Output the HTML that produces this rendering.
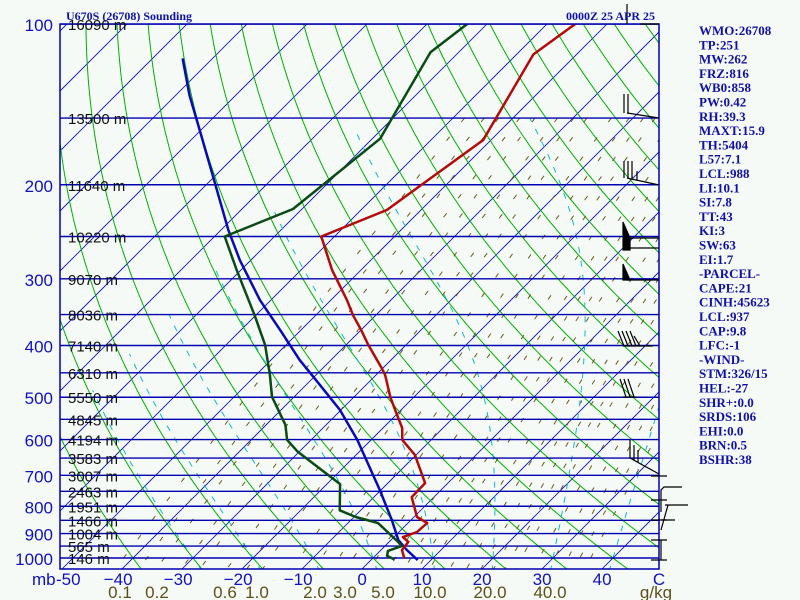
<!DOCTYPE html>
<html><head><meta charset="utf-8"><style>
html,body{margin:0;padding:0;background:#f5faf6;}
svg{display:block;}
.ttl{font-family:"Liberation Serif",serif;font-weight:bold;font-size:12px;fill:#1010a8;}
.stat{font-family:"Liberation Serif",serif;font-weight:bold;font-size:13px;fill:#1010a8;}
.ax{font-family:"Liberation Sans",sans-serif;font-size:17px;fill:#1010c0;}
.wl{font-family:"Liberation Sans",sans-serif;font-size:17px;fill:#5a5018;}
.hl{font-family:"Liberation Sans",sans-serif;font-size:15px;fill:#111;}
</style></head><body>
<svg id="chart" width="800" height="600" xmlns="http://www.w3.org/2000/svg">
<defs><clipPath id="plotclip"><rect x="60" y="24" width="599" height="545"/></clipPath></defs>
<rect x="0" y="0" width="800" height="600" fill="#f5faf6"/>
<g id="grid" clip-path="url(#plotclip)"></g>
<g id="series" clip-path="url(#plotclip)"></g>
<rect x="60" y="24" width="599" height="545" fill="none" stroke="#0000b0" stroke-width="1.5"/>
<g id="labels"></g>
<g id="barbs" stroke="#000" stroke-width="1.2" fill="none">
<path d="M627,24 V4 M659,24 H640"/>
<path d="M659,118 L627,113 M624,94 V113 M628,94 V113"/>
<path d="M659,185 L627,178 M624,161 V178 M628,161 V178 M632,161 V178 M637,171 V181"/>
<path d="M659,238 H627 M659,248 H630"/>
<path d="M623,222 L630,238 L630,250 L623,250 Z" fill="#000"/>
<path d="M659,280 H627"/>
<path d="M623,264 L630,280 L623,280 Z" fill="#000"/>
<path d="M653,346 H623 M618,331 L624,346 M622,331 L628,346 M626,331 L632,346 M630,331 L636,346 M634,336 L640,346"/>
<path d="M636,397 H623 M620,379 L626,397 M624,379 L630,397 M628,379 L634,397"/>
<path d="M659,474 L630,458 M630,440 V458 M634,445 V460 M638,450 V462"/>
<path d="M661,512 V490 L664,487 H682 M665,505 H688 M661,530 L668,505 M661,520 H675"/>
<path d="M651,476 H667 M651,500 H667 M651,520 H667 M651,540 H667 M651,560 H667 M661,540 V560"/>
</g>
<text class="ttl" x="66" y="20">U670S (26708) Sounding</text>
<text class="ttl" x="655" y="20" text-anchor="end">0000Z 25 APR 25</text>
<g id="stats"></g>
</svg>
<script>
// ---- data ----
const tempP=[100,114,165,223,250,289,329,351,374,399,441,454,501,540,571,601,641,724,769,838,860,894,914,933,966,1000];
const tempT=[-55.3,-57.2,-51.3,-55.7,-62.2,-54.8,-47.3,-43.8,-40,-36.3,-30.2,-28.5,-23.8,-19.8,-16.8,-14.8,-10.2,-3.8,-3.7,0.5,3.2,3.0,1.5,3.2,3.5,5.2];
const dewP=[100,113,164,222,250,289,351,399,454,499,563,601,632,727,814,838,860,933,950,970,991,1005];
const dewT=[-73.3,-74.7,-68.7,-71.5,-78.3,-70.7,-60.2,-53.5,-47.7,-43.7,-36.8,-34,-30.3,-17.8,-13.5,-9.7,-5,1.5,2.8,1.3,2.0,3.7];
const parcelP=[116,136,158,192,243,277,329,374,426,474,528,601,746,849,925,966,1009];
const parcelT=[-115,-107.7,-100.2,-90.5,-78.8,-71.8,-61.8,-53.5,-45.2,-37.7,-30.2,-22.3,-10.2,-3.2,1.2,4.3,7.8];
const levelP=[100,150,200,250,300,350,400,450,500,550,600,650,700,750,800,850,900,950,1000];
const heightLabels=["16090 m","13500 m","11640 m","10220 m","9070 m","8036 m","7140 m","6310 m","5550 m","4845 m","4194 m","3583 m","3007 m","2463 m","1951 m","1466 m","1004 m","565 m","146 m"];
const pressureTicks=[100,200,300,400,500,600,700,800,900,1000];
const tempTicks=[-40,-30,-20,-10,0,10,20,30,40];
const mixLabels=["0.1","0.2","0.6","1.0","2.0","3.0","5.0","10.0","20.0","40.0"];
const mixLabelX=[120,157,225,257,315,345,383,430,490,550];
const mixRatios=[0.1,0.15,0.2,0.3,0.4,0.6,0.8,1,1.5,2,2.5,3,4,5,6,7,8,10,12,14,16,18,20,24,28,32,36,40];
const isoT=[-160,-150,-140,-130,-120,-110,-100,-90,-80,-70,-60,-50,-40,-30,-20,-10,0,10,20,30,40];
const thetaC=[-40,-30,-20,-10,0,10,20,30,40,50,60,70,80,90,100,110,120,130,140,150,160,170,180,190,200];
const moistT0=[-30,-20,-10,0,10,20,30,40];
const statLines=["WMO:26708","TP:251","MW:262","FRZ:816","WB0:858","PW:0.42","RH:39.3","MAXT:15.9","TH:5404","L57:7.1","LCL:988","LI:10.1","SI:7.8","TT:43","KI:3","SW:63","EI:1.7","-PARCEL-","CAPE:21","CINH:45623","LCL:937","CAP:9.8","LFC:-1","-WIND-","STM:326/15","HEL:-27","SHR+:0.0","SRDS:106","EHI:0.0","BRN:0.5","BSHR:38"];
// ---- axes ----
const NS="http://www.w3.org/2000/svg";
function yP(p){return 24+534*Math.log10(p/100);}
function xTP(T,p){return 362+6*T+(569-yP(p));}
function el(tag,attrs,parent){const e=document.createElementNS(NS,tag);for(const k in attrs)e.setAttribute(k,attrs[k]);parent.appendChild(e);return e;}
function pathFrom(pts){return pts.map((q,i)=>(i?"L":"M")+q[0].toFixed(1)+","+q[1].toFixed(1)).join(" ");}
const grid=document.getElementById('grid'),series=document.getElementById('series'),labels=document.getElementById('labels'),stats=document.getElementById('stats');
const pList=[];for(let p=95;p<=1060;p+=5)pList.push(p);
// isotherms
isoT.forEach(T=>{const e=el('line',{x1:xTP(T,1060),y1:yP(1060),x2:xTP(T,95),y2:yP(95),stroke:'#0000c0','stroke-width':0.8},grid);

});
// dry adiabats
thetaC.forEach(th=>{const pts=pList.map(p=>[xTP((th+273.15)*Math.pow(p/1000,0.2857)-273.15,p),yP(p)]);
const e=el('path',{d:pathFrom(pts),stroke:'#00b000','stroke-width':1,fill:'none'},grid);

});
// mixing ratio lines
function tdFromW(w,p){const e=w*p/(622+w);const l=Math.log(e/6.112);return 243.5*l/(17.67-l);}
mixRatios.forEach(w=>{const pts=[];for(let p=150;p<=1060;p+=10)pts.push([xTP(tdFromW(w,p),p),yP(p)]);
const e=el('path',{d:pathFrom(pts),stroke:'#6b5a1e','stroke-width':1,fill:'none','stroke-dasharray':'5 19'},grid);

});
// moist adiabats
function es(T){return 6.112*Math.exp(17.67*T/(T+243.5));}
function moistPts(T0){const pts=[];let T=T0+273.15;const up=[],dn=[];
 function step(T,p,dp){const rs=0.622*es(T-273.15)/(p-es(T-273.15));const L=2.5e6,Rd=287,cp=1004;
  const dTdp=(Rd*T+L*rs)/(p*(cp+L*L*rs*0.622/(Rd*T*T)));return T+dTdp*dp;}
 let t=T;for(let p=1000;p>=150;p-=5){up.push([p,t-273.15]);t=step(t,p,-5);}
 t=T;for(let p=1000;p<=1060;p+=5){dn.push([p,t-273.15]);t=step(t,p,5);}
 return dn.reverse().concat(up.slice(1)).filter(q=>q[1]>-75);}
moistT0.forEach(T0=>{const pts=moistPts(T0).map(q=>[xTP(q[1],q[0]),yP(q[0])]);
const e=el('path',{d:pathFrom(pts),stroke:'#10b8c8','stroke-width':1,fill:'none','stroke-dasharray':'6 8'},grid);

});
// isobars
levelP.forEach(p=>{const e=el('line',{x1:60,x2:659,y1:yP(p),y2:yP(p),stroke:'#0000b0','stroke-width':1.4},grid);

});
// series
function drawSeries(P,T,color,name){const pts=P.map((p,i)=>[xTP(T[i],p),yP(p)]);
const e=el('path',{d:pathFrom(pts),stroke:color,'stroke-width':2.5,fill:'none','stroke-linejoin':'round'},series);

}
drawSeries(parcelP,parcelT,'#0a0ab4','parcel-line');
drawSeries(dewP,dewT,'#0a4a14','dewpoint-line');
drawSeries(tempP,tempT,'#b40a0a','temperature-line');
// height labels
levelP.forEach((p,i)=>{const t=el('text',{x:68,y:yP(p)+6,class:'hl'},labels);t.textContent=heightLabels[i];

});
// pressure ticks
pressureTicks.forEach(p=>{const t=el('text',{x:53,y:yP(p)+7,class:'ax','text-anchor':'end'},labels);t.textContent=String(p);

});
// temperature ticks
{const t=el('text',{x:32,y:585,class:'ax'},labels);t.textContent='mb';


const t2=el('text',{x:56,y:585,class:'ax'},labels);t2.textContent='-50';


const t3=el('text',{x:659,y:585,class:'ax','text-anchor':'middle'},labels);t3.textContent='C';

}
tempTicks.forEach(T=>{const t=el('text',{x:xTP(T,1048)+(T<0?-4:0),y:585,class:'ax','text-anchor':'middle'},labels);t.textContent=(T<0?'\u2212'+(-T):String(T));

});
mixLabels.forEach((s,i)=>{const t=el('text',{x:mixLabelX[i],y:598,class:'wl','text-anchor':'middle'},labels);t.textContent=s;

});
{const t=el('text',{x:656,y:598,class:'wl','text-anchor':'middle'},labels);t.textContent='g/kg';

}
// stats
statLines.forEach((s,i)=>{const t=el('text',{x:699,y:35+i*14.3,class:'stat'},stats);t.textContent=s;

});
</script>
</body></html>
